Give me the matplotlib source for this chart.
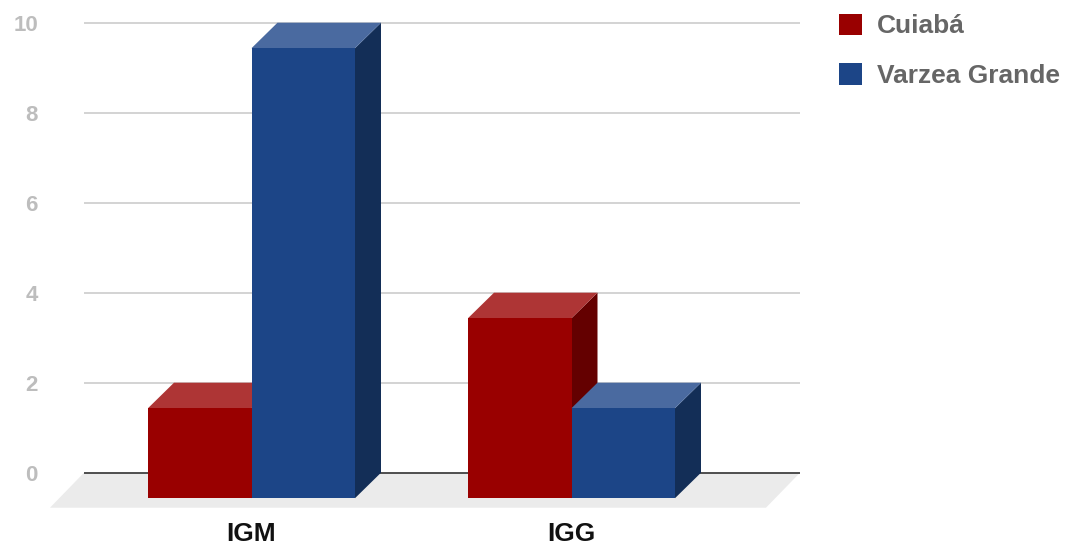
import matplotlib.pyplot as plt
from matplotlib.patches import Polygon, Patch

# dados
categorias = ['IGM', 'IGG']
series = ['Cuiabá', 'Varzea Grande']
cuiaba = [2, 4]
varzea = [10, 2]
valores = [cuiaba, varzea]

# cores (frente, topo, lateral)
cores = [('#990000', '#ae3535', '#640000'),
         ('#1c4587', '#4a6aa0', '#132e57')]

W, H = 1074, 547
fig = plt.figure(figsize=(W / 100, H / 100), dpi=100)
plt.rcParams['font.family'] = ['Liberation Sans', 'DejaVu Sans']

# eixo em pixels -> posicao na figura
left_px, right_px, top_px, bot_px = 40, 810, 12, 512
ax = fig.add_axes([left_px / W, 1 - bot_px / H,
                   (right_px - left_px) / W, (bot_px - top_px) / H])

px_x = 320.0   # pixels por categoria
px_y = 45.0    # pixels por unidade
x0_px, y0_px = 277.5, 472.7
ax.set_xlim((left_px - x0_px) / px_x, (right_px - x0_px) / px_x)
ax.set_ylim((y0_px - bot_px) / px_y, (y0_px - top_px) / px_y)

xmin, xmax = (84 - x0_px) / px_x, (800 - x0_px) / px_x
larg = 103.5 / px_x
dx, dy = 26 / px_x, 25.5 / px_y
fdx, fdy = 34 / px_x, 35 / px_y

# piso
ax.add_patch(Polygon([(xmin, 0), (xmax, 0), (xmax - fdx, -fdy), (xmin - fdx, -fdy)],
                     closed=True, facecolor='#ebebeb', edgecolor='none', zorder=1))

# grade
yticks = [0, 2, 4, 6, 8, 10]
ax.hlines(yticks[1:], xmin, xmax, colors='#cccccc', linewidth=1.2, zorder=1)
ax.hlines(0, xmin, xmax, colors='#333333', linewidth=1.2, zorder=2)

# barras 3D
z = 3
for i in range(len(categorias)):
    for j, vals in enumerate(valores):
        v = vals[i]
        xb = i - larg + j * larg
        frente, topo, lado = cores[j]
        ax.add_patch(Polygon([(xb + larg - dx, -dy), (xb + larg, 0), (xb + larg, v),
                              (xb + larg - dx, v - dy)], closed=True,
                             facecolor=lado, edgecolor='none', zorder=z))
        ax.add_patch(Polygon([(xb - dx, v - dy), (xb, v), (xb + larg, v),
                              (xb + larg - dx, v - dy)], closed=True,
                             facecolor=topo, edgecolor='none', zorder=z))
        ax.add_patch(Polygon([(xb - dx, -dy), (xb + larg - dx, -dy),
                              (xb + larg - dx, v - dy), (xb - dx, v - dy)], closed=True,
                             facecolor=frente, edgecolor='none', zorder=z + 1))
        z += 2

for s in ax.spines.values():
    s.set_visible(False)
ax.set_yticks(yticks)
ax.set_yticklabels([str(t) for t in yticks], color='#bdbdbd', fontsize=16,
                   fontweight='bold')
ax.set_xticks([i - dx for i in range(len(categorias))])
ax.set_xticklabels(categorias, fontsize=19, fontweight='bold', color='#111111')
ax.tick_params(axis='y', length=0, pad=1.5)
ax.tick_params(axis='x', length=0, pad=7.5)

handles = [Patch(facecolor=cores[k][0], edgecolor='none') for k in range(len(series))]
leg = fig.legend(handles, series, loc='upper left', bbox_to_anchor=(828 / W, 1 - 3 / H),
                 frameon=False, fontsize=19, handlelength=0.87, handleheight=0.87,
                 handletextpad=0.6, labelspacing=0.95, borderaxespad=0)
for t in leg.get_texts():
    t.set_color('#666666')
    t.set_fontweight('bold')

fig.savefig('out.png', dpi=100)
